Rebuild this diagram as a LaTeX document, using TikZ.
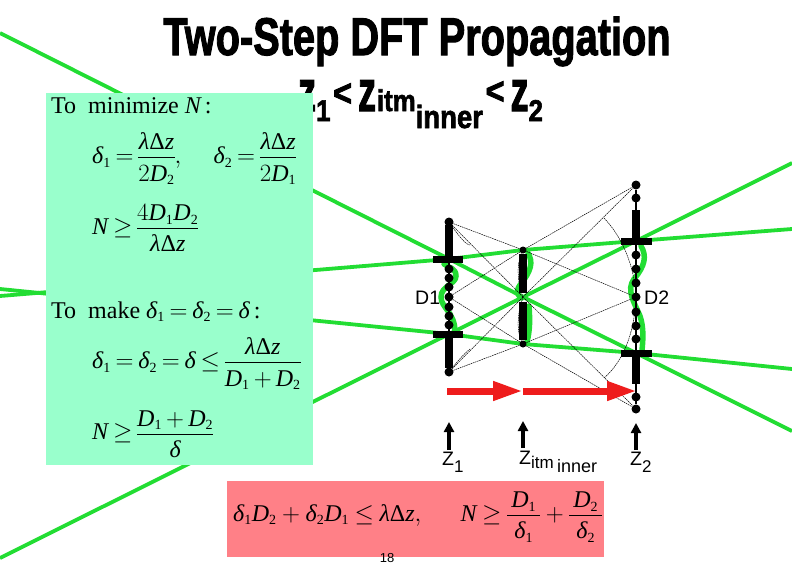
\documentclass[tikz,border=0pt]{standalone}
\usepackage{fontspec}
\setmainfont{Liberation Serif}
\setsansfont{Liberation Sans}
\newfontfamily\headfont[BoldFeatures={FakeBold=2.2}]{Liberation Sans}
\usetikzlibrary{arrows.meta}
\definecolor{beam}{HTML}{22DD33}
\definecolor{mint}{HTML}{99FFCC}
\definecolor{rose}{HTML}{FF8087}
\definecolor{redarrow}{HTML}{EE1C1C}
\newcommand{\vv}[1]{\mbox{\itshape #1}}
\newcommand{\dl}{\vv{δ}}
\newcommand{\lz}{\vv{λ}\mbox{Δ}\vv{z}}
\newcommand{\sbs}[1]{_{\mbox{\fontsize{14}{14}\selectfont #1}}}
\newcommand{\DD}[1]{\vv{D}\sbs{#1}}
\newcommand{\dd}[1]{\vv{δ}\sbs{#1}}
\newcommand{\bigfrac}[2]{\frac{\displaystyle\rule[-7pt]{0pt}{7pt}#1}{\displaystyle\rule{0pt}{23pt}#2}}
\newcommand{\tight}{\thickmuskip=3.5mu\medmuskip=3mu\nulldelimiterspace=0pt}
\newcommand{\loose}{\thickmuskip=4mu\medmuskip=4mu\nulldelimiterspace=0pt}
\newcommand{\hs}[2]{\fontsize{#1}{#1}\selectfont #2}
\newcommand{\zz}{{\fontsize{58}{58}\selectfont\scalebox{0.72}[1]{z}}}
\tikzset{
  beamline/.style={draw=beam,line width=3.8pt},
  bulge/.style={draw=beam,line width=5.5pt,line cap=round},
  fan/.style={draw=black,line width=0.5pt,dash pattern=on 1.6pt off 0.7pt},
  column/.style={draw=black,line width=2pt},
  stem/.style={draw=black,line width=7.5pt},
  aperture/.style={draw=black,line width=7pt},
  sample/.style={circle,fill=black,inner sep=0pt,minimum size=9pt},
  redarr/.style={draw=redarrow,line width=7pt,-{Triangle[length=30pt,width=18pt,fill=redarrow]}},
  uparr/.style={draw=black,line width=3.8pt,-{Triangle[length=10pt,width=10pt]}},
  head/.style={font=\headfont\bfseries\fontsize{53}{53}\selectfont,inner sep=0pt,anchor=base},
  lab/.style={font=\sffamily\fontsize{19.5}{19.5}\selectfont,inner sep=0pt},
  eq/.style={font=\fontsize{24}{28}\selectfont,inner sep=0pt,anchor=west},
}
\begin{document}
\begin{tikzpicture}[x=1pt,y=-1pt]
\useasboundingbox (0,0) rectangle (792,576);
\clip (0,0) rectangle (792,576);
% beam coordinates
\coordinate (bl) at (0,33);
\coordinate (br) at (792,431);
\coordinate (cl) at (0,558);
\coordinate (cr) at (792,163);
\coordinate (dl) at (0,296);
\coordinate (dr) at (792,229);
\coordinate (el) at (0,289);
\coordinate (er) at (792,369);
\coordinate (u1) at (449,259);
\coordinate (l1) at (449,334);
\coordinate (u2) at (636,241);
\coordinate (l2) at (636,353);
\coordinate (mt) at (523,250);
\coordinate (mc) at (523,297);
\coordinate (mb) at (523,344);
% beams
\draw[beamline] (bl)--(u1)--(mc)--(l2)--(br);
\draw[beamline] (cl)--(l1)--(mc)--(u2)--(cr);
\draw[beamline] (dl)--(u1)--(mt)--(u2)--(dr);
\draw[beamline] (el)--(l1)--(mb)--(l2)--(er);
% green edge of the apertures
\draw[bulge] (444,264) .. controls (449,268) and (456,268) .. (456,276)
   .. controls (456,284) and (441,286) .. (441,297)
   .. controls (441,308) and (455,312) .. (455,332);
\draw[bulge] (528,253) .. controls (533,262) and (532,270) .. (520,285) .. controls (515,292) and (518,296) .. (522,298);
\draw[bulge] (529,306) .. controls (530,320) and (530,330) .. (527,342);
\draw[bulge] (641,246) .. controls (647,256) and (645,266) .. (634,279)
   .. controls (626,290) and (634,302) .. (640,316) .. controls (644,328) and (643,340) .. (642,350);
% sample points
\node[sample] (a0) at (449,222) {};
\node[sample] (a1) at (449,269) {};
\node[sample] (a2) at (449,278) {};
\node[sample] (a3) at (449,287) {};
\node[sample] (a4) at (449,297) {};
\node[sample] (a5) at (449,307) {};
\node[sample] (a6) at (449,316) {};
\node[sample] (a7) at (449,325) {};
\node[sample] (a8) at (449,372) {};
\node[sample,minimum size=7pt] (m0) at (mt) {};
\coordinate (m1) at (mc);
\node[sample,minimum size=7pt] (m2) at (mb) {};
\node[sample] (c0) at (636,185) {};
\node[sample] (c1) at (636,198) {};
\node[sample] (c2) at (636,255) {};
\node[sample] (c3) at (636,269) {};
\node[sample] (c4) at (636,283) {};
\node[sample] (c5) at (636,297) {};
\node[sample] (c6) at (636,312) {};
\node[sample] (c7) at (636,326) {};
\node[sample] (c8) at (636,339) {};
\node[sample] (c9) at (636,397) {};
\node[sample] (c10) at (636,409) {};
% fan of rays
\draw[fan] (a0)--(m0)--(c5);
\draw[fan] (a0)--(m1)--(c10);
\draw[fan] (a4)--(m0)--(c0);
\draw[fan] (a4)--(m2)--(c10);
\draw[fan] (a8)--(m2)--(c5);
\draw[fan] (a8)--(m1)--(c0);
\draw[fan] (a0) .. controls (465,245) and (469,245) .. (470,245);
\draw[fan] (a8) .. controls (465,352) and (469,350) .. (470,349);
\draw[fan] (604,218) .. controls (625,240) and (634,270) .. (c5);
\draw[fan] (c5) .. controls (634,330) and (625,360) .. (604,378);
\draw[fan] (m0) .. controls (516,265) and (518,285) .. (m1);
\draw[fan] (m1) .. controls (518,310) and (516,330) .. (m2);
% columns
\draw[column] (a0)--(a8);
\draw[column] (c0)--(c10);
\draw[stem] (449,225)--(449,259);
\draw[stem] (449,334)--(449,368);
\draw[stem] (523,254)--(523,293);
\draw[stem] (523,302)--(523,340);
\draw[stem] (636,210)--(636,241);
\draw[stem] (636,353)--(636,384);
\draw[aperture] (433,259)--(463,259);
\draw[aperture] (433,334)--(463,334);
\draw[aperture] (621,241)--(652,241);
\draw[aperture] (621,353)--(652,353);
% red arrows
\coordinate (r0) at (447,391);
\coordinate (r1) at (523,391);
\coordinate (r2) at (637,391);
\draw[redarr] (r0)--(r1);
\draw[redarr] (r1)--(r2);
% plane pointers
\coordinate (p1a) at (449,450); \coordinate (p1b) at (449,422);
\coordinate (p2a) at (523,448); \coordinate (p2b) at (523,421);
\coordinate (p3a) at (636,450); \coordinate (p3b) at (636,423);
\draw[uparr] (p1a)--(p1b);
\draw[uparr] (p2a)--(p2b);
\draw[uparr] (p3a)--(p3b);
% labels
\node[lab,anchor=base west] (zl1) at (442,465) {Z\raisebox{-7pt}{\hs{17}{1}}};
\node[lab,anchor=base west] (zl2) at (519,464) {Z\raisebox{-4pt}{\hs{17}{itm}}\,\raisebox{-8pt}{\hs{18}{inner}}};
\node[lab,anchor=base west] (zl3) at (630,465) {Z\raisebox{-7pt}{\hs{17}{2}}};
\node[lab,anchor=base west] (d1) at (415,304) {D1};
\node[lab,anchor=base west] (d2) at (644,304) {D2};
% title
\node[head,xscale=0.75] (t1) at (417,55) {Two-Step DFT Propagation};
\node[head,xscale=0.86,anchor=base west] (t2) at (298,111) {\zz\raisebox{-10pt}{\hs{30}{1}}\hspace{3pt}\raisebox{5pt}{\hs{38}{<}}\hspace{7pt}\zz\hspace{1pt}\hs{30}{itm}\raisebox{-17pt}{\hs{32}{inner}}\hspace{3pt}\raisebox{7pt}{\hs{38}{<}}\hspace{7pt}\zz\raisebox{-10pt}{\hs{30}{2}}};
% boxes
\fill[mint] (46,93) rectangle (313,465);
\fill[rose] (227,481) rectangle (604,557);
% equations
\node[eq,anchor=base west] (e1) at (51,113) {To~~minimize \vv{N}\,:};
\node[eq] (e2) at (92,159) {\tight$\dd{1}=\bigfrac{\lz}{2\DD{2}},\quad\, \dd{2}=\bigfrac{\lz}{2\DD{1}}$};
\node[eq] (e3) at (92,228) {\tight$\vv{N}\geq\bigfrac{4\DD{1}\DD{2}}{\lz}$};
\node[eq,anchor=base west] (e4) at (51,318) {\tight To~~make $\dd{1}=\dd{2}=\dl$\,:};
\node[eq] (e5) at (92,364) {\tight$\dd{1}=\dd{2}=\dl\leq\bigfrac{\lz}{\DD{1}+\DD{2}}$};
\node[eq] (e6) at (92,434) {\tight$\vv{N}\geq\bigfrac{\DD{1}+\DD{2}}{\dl}$};
\node[eq] (e7) at (233,517) {\loose$\dd{1}\DD{2}+\dd{2}\DD{1}\leq\lz,\quad\;\; \vv{N}\geq\bigfrac{\,\DD{1}\,}{\dd{1}}+\bigfrac{\,\DD{2}\,}{\dd{2}}$};
\node[font=\sffamily\fontsize{13}{13}\selectfont,inner sep=0pt] (pg) at (387,558) {18};
\end{tikzpicture}
\end{document}
